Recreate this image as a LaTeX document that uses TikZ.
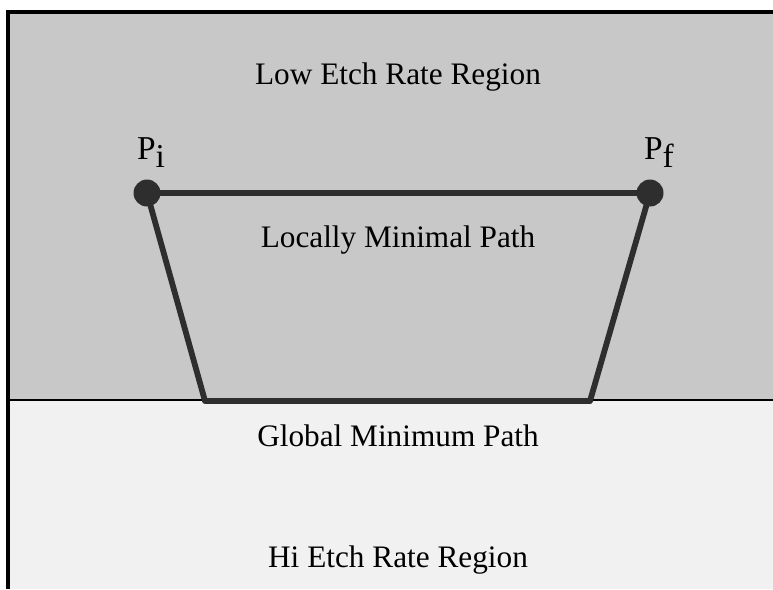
\documentclass[tikz,border=0pt]{standalone}
\usepackage{fontspec}
\setmainfont{Liberation Serif}
\usepackage{tikz}
\usetikzlibrary{calc,positioning}
\usepackage{xcolor}
\definecolor{lowgray}{HTML}{C8C8C8}
\definecolor{higray}{HTML}{F1F1F1}
\definecolor{inkdark}{HTML}{2E2E2E}

\begin{document}
\begin{tikzpicture}[x=0.02cm, y=-0.02cm,
      every node/.style={font=\fontsize{17.8}{20}\selectfont, text=black},
      dot/.style={circle, fill=inkdark, inner sep=0pt, minimum size=0.54cm},
      pathline/.style={draw=inkdark, line width=3.3pt, line join=round},
      ptlabel/.style={font=\fontsize{19}{21}\selectfont}
    ]
      \useasboundingbox (0,0) rectangle (773,589);
      % regions
      \fill[lowgray] (8,12) rectangle (773,400);
      \fill[higray] (8,400) rectangle (773,589);
      \draw[line width=1.8pt] (8,589) -- (8,12) -- (773,12);
      \draw[line width=1.3pt] (8,400) -- (773,400);
      % region labels
      \node (low) at (398,77) {Low Etch Rate Region};
      \node (local) at (398,240) {Locally Minimal Path};
      \node (global) at (398,436) {Global Minimum Path};
      \node (hi) at (398,560) {Hi Etch Rate Region};
      % end points
      \node[dot] (pi) at (147,193) {};
      \node[dot] (pf) at (650,193) {};
      \node[ptlabel, above=0.1cm of pi, xshift=0.08cm] (pilab) {P\raisebox{-0.55ex}{i}};
      \node[ptlabel, above=0.1cm of pf, xshift=0.18cm] (pflab) {P\raisebox{-0.55ex}{f}};
      \coordinate (gl) at (205,401);
      \coordinate (gr) at (590,401);
      % paths
      \draw[pathline] (pi.center) -- (pf.center);
      \draw[pathline] (pi.center) -- (gl) -- (gr) -- (pf.center);
    \end{tikzpicture}
\end{document}
